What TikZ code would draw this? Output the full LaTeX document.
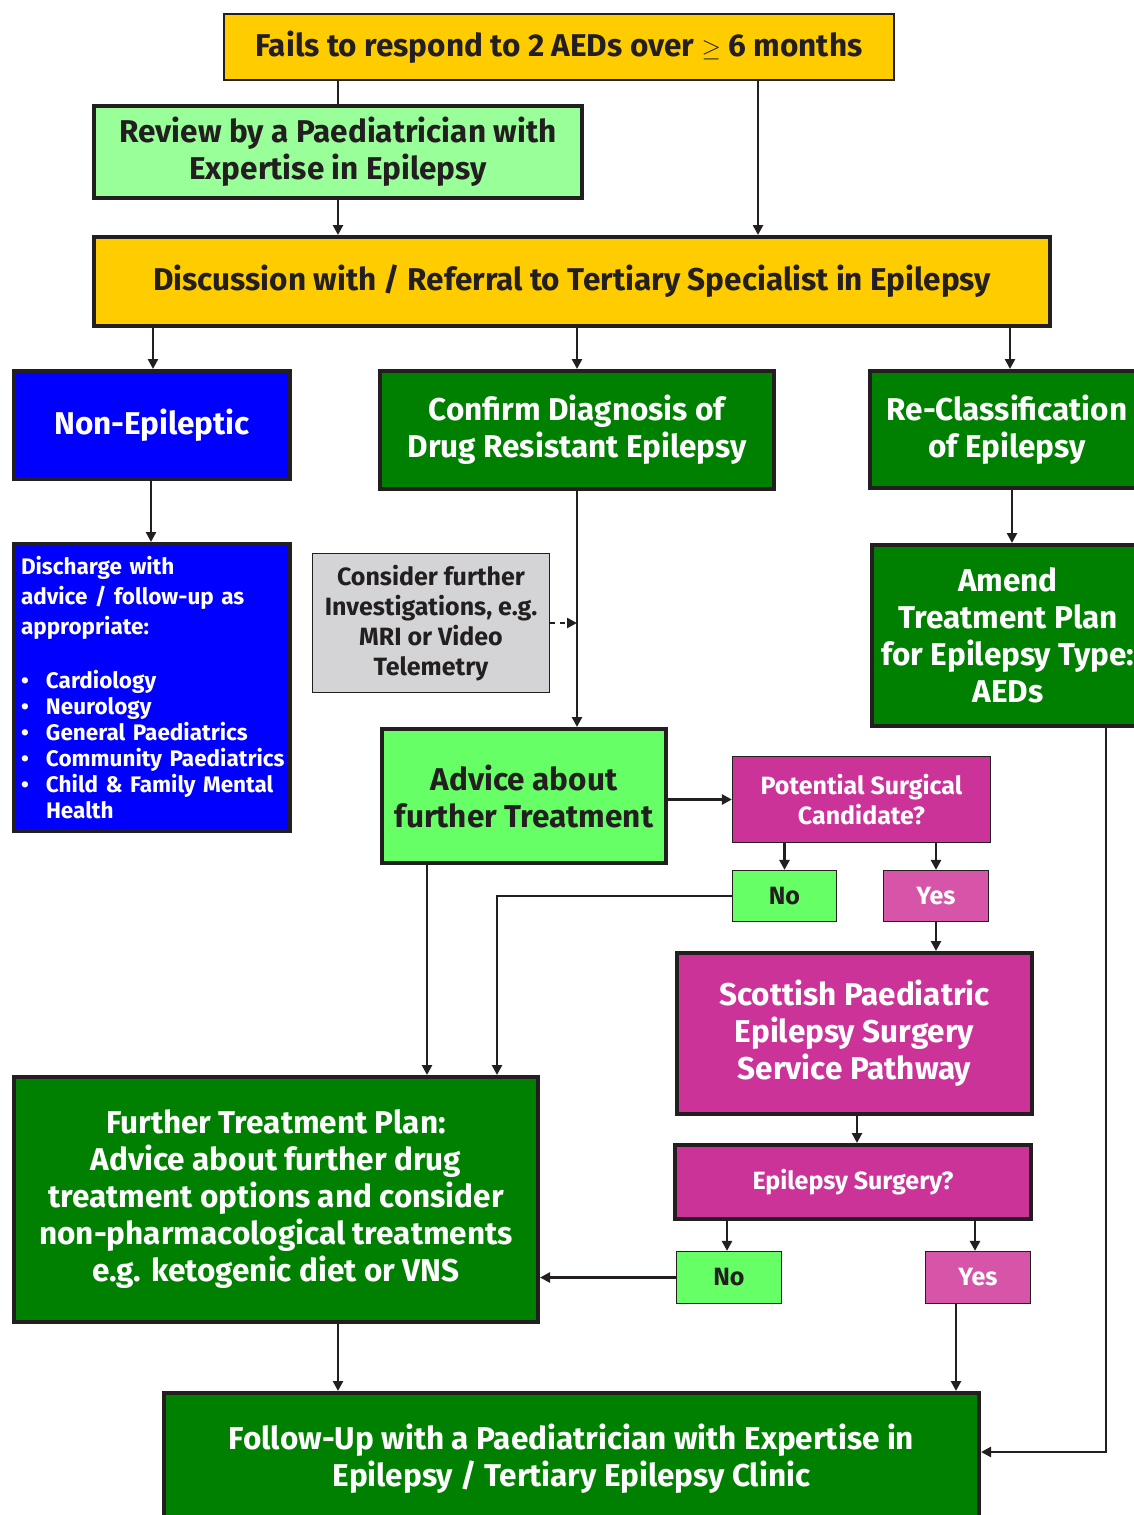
\documentclass[tikz,border=0pt]{standalone}
\usepackage{fontspec}
\setmainfont{Fira Sans}
\usetikzlibrary{arrows.meta}

\definecolor{boxline}{RGB}{35,31,32}
\definecolor{amber}{RGB}{255,204,0}
\definecolor{palegreen}{RGB}{153,255,153}
\definecolor{brightgreen}{RGB}{102,255,102}
\definecolor{darkgreen}{RGB}{0,128,0}
\definecolor{purewblue}{RGB}{0,0,255}
\definecolor{lightgrey}{RGB}{212,212,214}
\definecolor{plum}{RGB}{204,51,153}
\definecolor{pinkish}{RGB}{214,85,168}

\newcommand{\bigtxt}{\fontsize{31.5}{37}\selectfont\bfseries}
\newcommand{\smalltxt}{\fontsize{25}{30}\selectfont\bfseries}
\newcommand{\listtxt}{\fontsize{22.5}{26}\selectfont\bfseries}
\newcommand{\bul}{\makebox[25pt][l]{\textbullet}}

\begin{document}
\begin{tikzpicture}[x=1pt,y=-1pt,
  thick box/.style={draw=boxline,line width=4pt,inner sep=4pt,align=center},
  thin box/.style={draw=boxline,line width=1.2pt,inner sep=4pt,align=center},
  arr/.style={draw=boxline,line width=2.5pt,-{Triangle[length=10pt,width=10pt]}},
  ln/.style={draw=boxline,line width=2.5pt},
  dasharr/.style={arr,dash pattern=on 5pt off 5pt}]
\useasboundingbox (0,0) rectangle (1134,1515);

\node[thin box,fill=amber,minimum width=670,minimum height=66,font=\bigtxt,text=boxline] (fails) at (559,47) {Fails to respond to 2 AEDs over $\geq$ 6 months};
\node[thick box,fill=palegreen,minimum width=488,minimum height=92,font=\bigtxt,text=boxline] (review) at (338,152) {Review by a Paediatrician with\\Expertise in Epilepsy};
\node[thick box,fill=amber,minimum width=956,minimum height=89,font=\bigtxt,text=boxline] (disc) at (572,281.5) {Discussion with / Referral to Tertiary Specialist in Epilepsy};

\node[thick box,fill=purewblue,minimum width=276,minimum height=108,font=\bigtxt,text=white] (nonep) at (152,425) {Non-Epileptic};
\node[thick box,fill=darkgreen,minimum width=394,minimum height=118,font=\bigtxt,text=white] (confirm) at (577,430) {Confirm Diagnosis of\\Drug Resistant Epilepsy};
\node[thick box,fill=darkgreen,minimum width=274,minimum height=117,font=\bigtxt,text=white] (reclass) at (1007,429.5) {Re-Classification\\of Epilepsy};

\node[thick box,fill=purewblue,inner xsep=7pt,text width=262,minimum height=287,align=left,font=\listtxt,text=white] (discharge) at (152,687.5) {Discharge with\\[4pt]advice / follow-up as\\[4pt]appropriate:\\[28pt]
\bul Cardiology\\\bul Neurology\\\bul General Paediatrics\\\bul \mbox{Community Paediatrics}\\\bul \mbox{Child \& Family Mental}\\\hspace*{25pt}Health};
\node[thin box,fill=lightgrey,minimum width=237,minimum height=139,font=\smalltxt,text=boxline] (consider) at (431,623) {Consider further\\Investigations, e.g.\\MRI or Video\\Telemetry};
\node[thick box,fill=darkgreen,minimum width=272,minimum height=181,font=\bigtxt,text=white] (amend) at (1008,635.5) {Amend\\Treatment Plan\\for Epilepsy Type:\\AEDs};

\node[thick box,fill=brightgreen,minimum width=284,minimum height=134,font=\bigtxt,text=boxline] (advice) at (524,796) {Advice about\\further Treatment};
\node[thin box,fill=plum,minimum width=258,minimum height=86,font=\smalltxt,text=white] (potential) at (861.5,799.5) {Potential Surgical\\Candidate?};
\node[thin box,fill=brightgreen,minimum width=104,minimum height=51,font=\smalltxt,text=boxline] (no1) at (784.5,896) {No};
\node[thin box,fill=pinkish,minimum width=105,minimum height=51,font=\smalltxt,text=white] (yes1) at (936,896) {Yes};

\node[thick box,fill=plum,minimum width=355,minimum height=161,font=\bigtxt,text=white] (scottish) at (854.5,1033.5) {Scottish Paediatric\\Epilepsy Surgery\\Service Pathway};
\node[thick box,fill=plum,minimum width=356,minimum height=74,font=\smalltxt,text=white] (epsurg) at (853,1182) {Epilepsy Surgery?};
\node[thin box,fill=brightgreen,minimum width=105,minimum height=52,font=\smalltxt,text=boxline] (no2) at (729,1277.5) {No};
\node[thin box,fill=pinkish,minimum width=105,minimum height=52,font=\smalltxt,text=white] (yes2) at (978,1277.5) {Yes};

\node[thick box,fill=darkgreen,minimum width=524,minimum height=245,font=\bigtxt,text=white] (further) at (276,1199.5) {Further Treatment Plan:\\Advice about further drug\\treatment options and consider\\non-pharmacological treatments\\e.g. ketogenic diet or VNS};
\node[thick box,fill=darkgreen,minimum width=815,minimum height=132,font=\bigtxt,text=white] (follow) at (571.5,1459) {Follow-Up with a Paediatrician with Expertise in\\Epilepsy / Tertiary Epilepsy Clinic};

% connectors
\draw[ln] (fails.south -| 338,0) -- (review.north -| 338,0);
\draw[arr] (fails.south -| 758,0) -- (disc.north -| 758,0);
\draw[arr] (review.south -| 338,0) -- (disc.north -| 338,0);
\draw[arr] (disc.south -| 153,0) -- (nonep.north -| 153,0);
\draw[arr] (disc.south -| confirm.north) -- (confirm.north);
\draw[arr] (disc.south -| 1010,0) -- (reclass.north -| 1010,0);
\draw[arr] (nonep.south -| 151,0) -- (discharge.north -| 151,0);
\draw[arr] (confirm.south) -- (advice.north -| confirm.south);
\coordinate (join) at (consider.east -| confirm.south);
\draw[dasharr] (consider.east) -- (join);
\draw[arr] (reclass.south -| 1012,0) -- (amend.north -| 1012,0);
\draw[arr] (amend.south -| 1106,0) |- (follow.east |- 0,1452);
\draw[arr] (advice.east |- potential.west) -- (potential.west);
\draw[arr] (potential.south -| no1.north) -- (no1.north);
\draw[arr] (potential.south -| yes1.north) -- (yes1.north);
\draw[arr] (no1.west) -| (further.north -| 497,0);
\draw[arr] (advice.south -| 427,0) -- (further.north -| 427,0);
\draw[arr] (yes1.south) -- (scottish.north -| yes1.south);
\draw[arr] (scottish.south -| 857,0) -- (epsurg.north -| 857,0);
\draw[arr] (epsurg.south -| 727,0) -- (no2.north -| 727,0);
\draw[arr] (epsurg.south -| 975,0) -- (yes2.north -| 975,0);
\draw[arr] (no2.west) -- (further.east |- no2.west);
\draw[arr] (yes2.south -| 956,0) -- (follow.north -| 956,0);
\draw[arr] (further.south -| 338,0) -- (follow.north -| 338,0);
\end{tikzpicture}
\end{document}
